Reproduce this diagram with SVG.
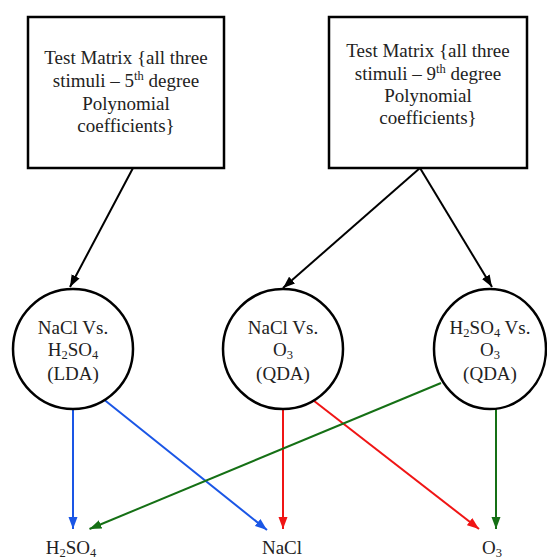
<svg xmlns="http://www.w3.org/2000/svg" width="547" height="560" viewBox="0 0 547 560">
<style>
text{font-family:"Liberation Serif","Times New Roman",serif;font-size:19px;fill:#222;text-anchor:middle}
.sub{font-size:12.5px}
.box{fill:#fff;stroke:#000;stroke-width:2.5}
.node{fill:#fff;stroke:#000;stroke-width:2.5}
.c{fill:none;stroke-width:2}
.k{stroke:#000}.b{stroke:#1a56e6}.r{stroke:#f01515}.g{stroke:#157015}
</style>
<defs>
<marker id="ak" markerUnits="userSpaceOnUse" markerWidth="13" markerHeight="10" refX="12" refY="5" orient="auto"><path d="M0,0.5 L12,5 L0,9.5 z" fill="#000"/></marker>
<marker id="ab" markerUnits="userSpaceOnUse" markerWidth="13" markerHeight="10" refX="12" refY="5" orient="auto"><path d="M0,0.5 L12,5 L0,9.5 z" fill="#1a56e6"/></marker>
<marker id="ar" markerUnits="userSpaceOnUse" markerWidth="13" markerHeight="10" refX="12" refY="5" orient="auto"><path d="M0,0.5 L12,5 L0,9.5 z" fill="#f01515"/></marker>
<marker id="ag" markerUnits="userSpaceOnUse" markerWidth="13" markerHeight="10" refX="12" refY="5" orient="auto"><path d="M0,0.5 L12,5 L0,9.5 z" fill="#157015"/></marker>
</defs>
<g id="connectors">
<line class="c k" x1="133" y1="168" x2="70" y2="287" marker-end="url(#ak)"/>
<line class="c k" x1="420" y1="168" x2="283" y2="288" marker-end="url(#ak)"/>
<line class="c k" x1="420" y1="168" x2="492" y2="287" marker-end="url(#ak)"/>
<line class="c b" x1="73" y1="409" x2="73" y2="529" marker-end="url(#ab)"/>
<line class="c b" x1="104.5" y1="400" x2="267" y2="530" marker-end="url(#ab)"/>
<line class="c r" x1="283" y1="409" x2="283" y2="529" marker-end="url(#ar)"/>
<line class="c r" x1="313.5" y1="400.5" x2="479" y2="529" marker-end="url(#ar)"/>
<line class="c g" x1="496" y1="409" x2="496" y2="529" marker-end="url(#ag)"/>
<line class="c g" x1="441" y1="383" x2="89.5" y2="529" marker-end="url(#ag)"/>
</g>
<g id="box1">
<rect class="box" x="28" y="17" width="196" height="151"/>
<text x="126" y="64">Test Matrix {all three</text>
<text x="126" y="87">stimuli – 5<tspan class="sub" dy="-7">th</tspan><tspan dy="7"> degree</tspan></text>
<text x="126" y="110">Polynomial</text>
<text x="126" y="132">coefficients}</text>
</g>
<g id="box2">
<rect class="box" x="329" y="17" width="198" height="151"/>
<text x="428" y="57">Test Matrix {all three</text>
<text x="428" y="80">stimuli – 9<tspan class="sub" dy="-7">th</tspan><tspan dy="7"> degree</tspan></text>
<text x="428" y="102">Polynomial</text>
<text x="428" y="124">coefficients}</text>
</g>
<g id="node1">
<circle class="node" cx="73" cy="349" r="60"/>
<text x="73" y="334">NaCl Vs.</text>
<text x="73" y="356">H<tspan class="sub" dy="3">2</tspan><tspan dy="-3">SO</tspan><tspan class="sub" dy="3">4</tspan></text>
<text x="73" y="380">(LDA)</text>
</g>
<g id="node2">
<circle class="node" cx="283" cy="349" r="60"/>
<text x="283" y="334">NaCl Vs.</text>
<text x="283" y="356">O<tspan class="sub" dy="3">3</tspan></text>
<text x="283" y="380">(QDA)</text>
</g>
<g id="node3">
<ellipse class="node" cx="490" cy="349" rx="56" ry="60"/>
<text x="490" y="334">H<tspan class="sub" dy="3">2</tspan><tspan dy="-3">SO</tspan><tspan class="sub" dy="3">4</tspan><tspan dy="-3"> Vs.</tspan></text>
<text x="490" y="356">O<tspan class="sub" dy="3">3</tspan></text>
<text x="490" y="380">(QDA)</text>
</g>
<g id="label-h2so4"><text x="71" y="554">H<tspan class="sub" dy="3">2</tspan><tspan dy="-3">SO</tspan><tspan class="sub" dy="3">4</tspan></text></g>
<g id="label-nacl"><text x="282" y="554">NaCl</text></g>
<g id="label-o3"><text x="492" y="554">O<tspan class="sub" dy="3">3</tspan></text></g>
</svg>
